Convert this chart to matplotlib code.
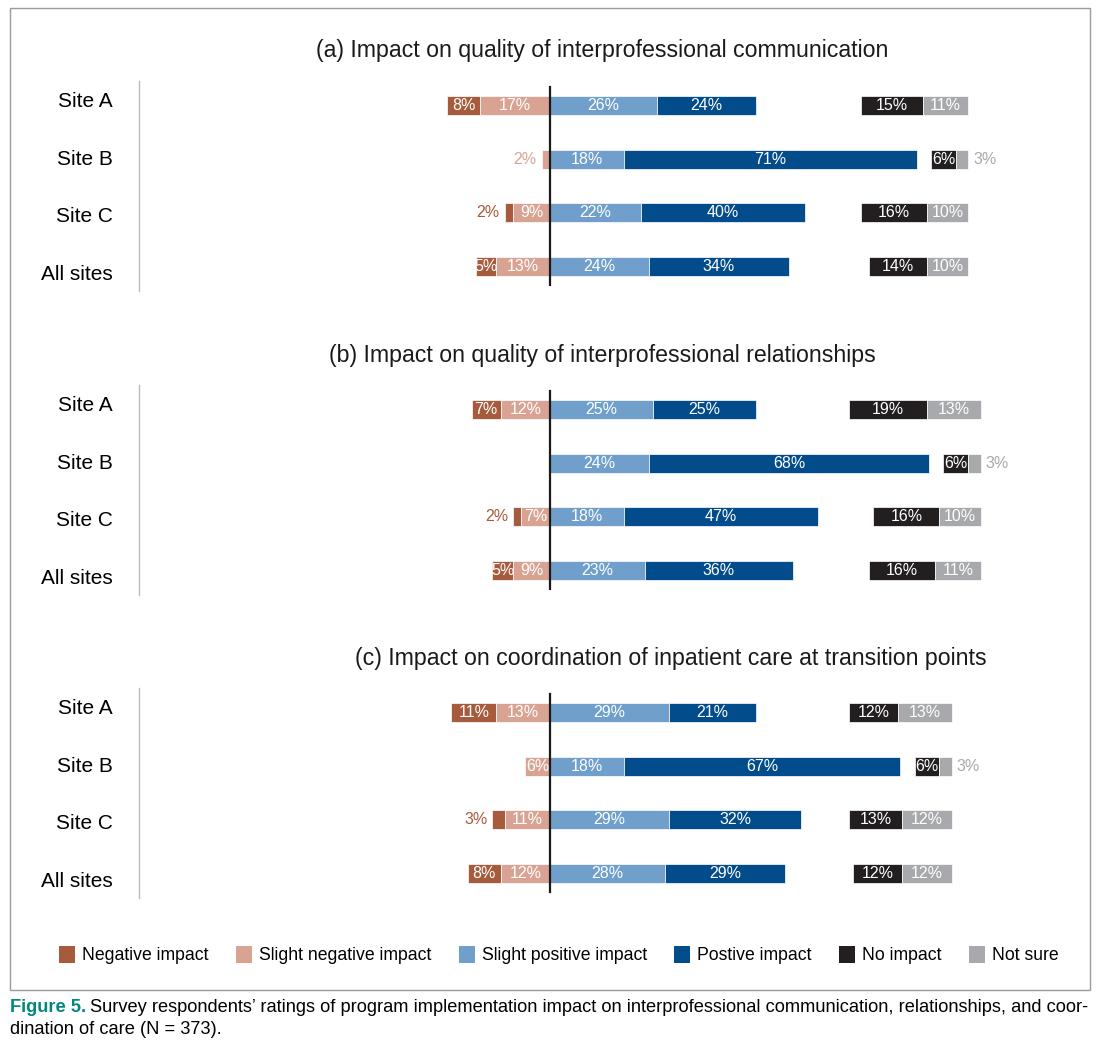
import numpy as np
import matplotlib.pyplot as plt
from matplotlib.patches import Patch, Rectangle

plt.rcParams["font.family"] = ["Liberation Sans", "DejaVu Sans"]

# data
sites = ["Site A", "Site B", "Site C", "All sites"]
titles = [
    "(a) Impact on quality of interprofessional communication",
    "(b) Impact on quality of interprofessional relationships",
    "(c) Impact on coordination of inpatient care at transition points",
]
categories = ["Negative impact", "Slight negative impact", "Slight positive impact",
              "Postive impact", "No impact", "Not sure"]

negative        = [[8, 0, 2, 5],    [7, 0, 2, 5],    [11, 0, 3, 8]]
slight_negative = [[17, 2, 9, 13],  [12, 0, 7, 9],   [13, 6, 11, 12]]
slight_positive = [[26, 18, 22, 24], [25, 24, 18, 23], [29, 18, 29, 28]]
positive        = [[24, 71, 40, 34], [25, 68, 47, 36], [21, 67, 32, 29]]
no_impact       = [[15, 6, 16, 14], [19, 6, 16, 16], [12, 6, 13, 12]]
not_sure        = [[11, 3, 10, 10], [13, 3, 10, 11], [13, 3, 12, 12]]

colors = ["#A65B3C", "#D9A394", "#6F9FCA", "#034C8C", "#231F20", "#A8A9AD"]

W, H = 1100, 1046
PX_PER_PCT = 4.12
ZERO_PX = 550
AX_LEFT_PX, AX_RIGHT_PX = 139, 1085
panel_tops = [81, 385, 688]
panel_height = 210
title_centers = [602, 602, 671]


def draw_panel(ax, k):
    y = np.arange(len(sites))
    neg = np.array(negative[k])
    sneg = np.array(slight_negative[k])
    spos = np.array(slight_positive[k])
    pos = np.array(positive[k])
    noimp = np.array(no_impact[k])
    nsure = np.array(not_sure[k])
    right_end = (spos + pos).max() + 12.5

    segments = [
        (-(neg + sneg), neg),
        (-sneg, sneg),
        (np.zeros_like(spos), spos),
        (spos, pos),
        (right_end - noimp - nsure, noimp),
        (right_end - nsure, nsure),
    ]
    for i, (left, width) in enumerate(segments):
        bars = ax.barh(y, width, left=left, height=0.35, color=colors[i],
                       edgecolor="white", linewidth=0.5)
        for j, rect in enumerate(bars):
            v = width[j]
            if v == 0:
                continue
            yc = rect.get_y() + rect.get_height() / 2
            if v <= 3:
                if i < 2:
                    ax.text(rect.get_x() - 1.2, yc, f"{v}%", ha="right", va="center",
                            color=colors[i], fontsize=11.5)
                else:
                    ax.text(rect.get_x() + rect.get_width() + 1.2, yc, f"{v}%", ha="left",
                            va="center", color=colors[i], fontsize=11.5)
            else:
                ax.text(rect.get_x() + rect.get_width() / 2, yc, f"{v}%", ha="center",
                        va="center", color="white", fontsize=11.5)

    ax.axvline(0, ymin=0.03, ymax=0.97, color="#1a1a1a", lw=1.6, zorder=5)
    ax.set_xlim((AX_LEFT_PX - ZERO_PX) / PX_PER_PCT, (AX_RIGHT_PX - ZERO_PX) / PX_PER_PCT)
    ax.set_ylim(3.465, -0.465)
    ax.set_yticks([])
    ax.set_xticks([])
    for side in ("top", "right", "bottom"):
        ax.spines[side].set_visible(False)
    ax.spines["left"].set_color("#BBBBBB")
    ax.spines["left"].set_linewidth(1)

    # site labels sit on their own, slightly wider, grid
    lab = ax.twinx()
    lab.set_ylim(3.33, -0.33)
    lab.yaxis.tick_left()
    lab.set_yticks(y, sites)
    lab.tick_params(axis="y", length=0, pad=19, labelsize=15)
    for s in lab.spines.values():
        s.set_visible(False)

    xc = (title_centers[k] - AX_LEFT_PX) / (AX_RIGHT_PX - AX_LEFT_PX)
    ax.text(xc, 1 + 30 / panel_height, titles[k], transform=ax.transAxes,
            ha="center", va="center", fontsize=16.7, color="#1a1a1a")


fig = plt.figure(figsize=(W / 100, H / 100), dpi=100)
axes = []
for k, top in enumerate(panel_tops):
    ax = fig.add_axes([AX_LEFT_PX / W, 1 - (top + panel_height) / H,
                       (AX_RIGHT_PX - AX_LEFT_PX) / W, panel_height / H])
    draw_panel(ax, k)
    axes.append(ax)

handles = [Patch(facecolor=c, edgecolor="none") for c in colors]
fig.legend(handles, categories, ncol=6, loc="center", bbox_to_anchor=(0.508, 1 - 955 / H),
           frameon=False, fontsize=12.7, handlelength=0.9, handleheight=1.1,
           handletextpad=0.4, columnspacing=1.55)

fig.add_artist(Rectangle((10 / W, 1 - 990 / H), 1080 / W, 982 / H, transform=fig.transFigure,
                         fill=False, edgecolor="#9A9A9A", lw=1))

t = fig.text(10 / W, 1 - 1007 / H, "Figure 5.", color="#00877E", fontweight="bold",
             fontsize=13.15, va="center")
axes[0].annotate("Survey respondents\u2019 ratings of program implementation impact on "
                 "interprofessional communication, relationships, and coor-",
                 xy=(1, 0.5), xycoords=t, xytext=(3, 0), textcoords="offset points",
                 va="center", fontsize=13.15, annotation_clip=False)
fig.text(10 / W, 1 - 1030 / H, "dination of care (N = 373).", fontsize=13.15, va="center")

fig.savefig("out.png", dpi=100)
